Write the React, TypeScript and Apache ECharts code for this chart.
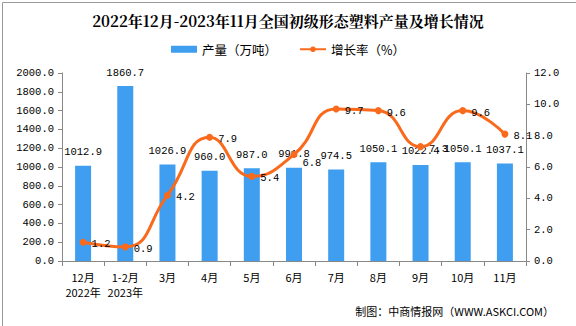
import React, { useEffect, useRef } from "react";
import * as echarts from "echarts";

const categories = ["12月\n2022年", "1-2月\n2023年", "3月", "4月", "5月", "6月", "7月", "8月", "9月", "10月", "11月"];
const output = [1012.9, 1860.7, 1026.9, 960.0, 987.0, 991.8, 974.5, 1050.1, 1022.4, 1050.1, 1037.1];
const growth = [1.2, 0.9, 4.2, 7.9, 5.4, 6.8, 9.7, 9.6, 7.3, 9.6, 8.1];

const MONO = "'Liberation Mono', 'DejaVu Sans Mono', monospace";
const CJK = "'Noto Sans CJK SC', sans-serif";

export default function App() {
  const ref = useRef<HTMLDivElement>(null);
  useEffect(() => {
    const chart = echarts.init(ref.current!, null, { renderer: "svg" });
    const growthData = growth.map((v, i) =>
      i === 5 ? { value: v, label: { offset: [0, 9] } } : v
    );
    chart.setOption({
      animation: false,
      backgroundColor: "#fff",
      title: {
        text: "2022年12月-2023年11月全国初级形态塑料产量及增长情况",
        left: "center",
        top: 8,
        textStyle: { fontSize: 15, fontWeight: "bold", color: "#000", fontFamily: "'Noto Serif CJK SC', " + CJK },
      },
      legend: {
        top: 38,
        left: "center",
        itemGap: 22,
        itemWidth: 26,
        itemHeight: 7,
        textStyle: { fontSize: 12.5, color: "#000", fontFamily: CJK },
        data: [
          { name: "产量（万吨）", icon: "rect" },
          { name: "增长率（%）" },
        ],
      },
      grid: { left: 62, right: 50, top: 73, bottom: 65 },
      xAxis: {
        type: "category",
        data: categories,
        axisLine: { lineStyle: { color: "#888" } },
        axisTick: { show: true, length: 5, lineStyle: { color: "#888" } },
        axisLabel: { interval: 0, color: "#000", fontSize: 11, fontFamily: CJK, lineHeight: 15, margin: 8 },
      },
      yAxis: [
        {
          type: "value",
          min: 0,
          max: 2000,
          interval: 200,
          axisLine: { show: true, lineStyle: { color: "#888" } },
          axisTick: { show: true, length: 4, lineStyle: { color: "#888" } },
          splitLine: { show: false },
          axisLabel: { color: "#000", fontSize: 10.5, fontFamily: MONO, formatter: (v: number) => v.toFixed(1), margin: 8 },
        },
        {
          type: "value",
          min: 0,
          max: 12,
          interval: 2,
          axisLine: { show: true, lineStyle: { color: "#888" } },
          axisTick: { show: true, length: 4, lineStyle: { color: "#888" } },
          splitLine: { show: false },
          axisLabel: { color: "#000", fontSize: 10.5, fontFamily: MONO, formatter: (v: number) => v.toFixed(1), margin: 8 },
        },
      ],
      series: [
        {
          name: "产量（万吨）",
          type: "bar",
          data: output,
          barWidth: 16,
          itemStyle: { color: "#3f9ef0" },
          label: {
            show: true,
            position: "top",
            distance: 8,
            color: "#000",
            fontSize: 10.5,
            fontFamily: MONO,
            formatter: (p: any) => Number(p.value).toFixed(1),
          },
        },
        {
          name: "增长率（%）",
          type: "line",
          yAxisIndex: 1,
          data: growthData,
          smooth: 0.5,
          symbol: "circle",
          symbolSize: 7,
          lineStyle: { color: "#f96a1c", width: 3 },
          itemStyle: { color: "#f96a1c" },
          label: {
            show: true,
            position: "right",
            distance: 5,
            offset: [0, 2],
            color: "#000",
            fontSize: 10.5,
            fontFamily: MONO,
            formatter: (p: any) => Number(p.value).toFixed(1),
          },
        },
      ],
      graphic: [
        {
          type: "text",
          right: 22,
          top: 305,
          style: { text: "制图：中商情报网（WWW.ASKCI.COM）", fontSize: 11, fill: "#000", fontFamily: CJK },
        },
        {
          type: "rect",
          left: 0,
          top: 0,
          shape: { x: 0, y: 0, width: 575, height: 325 },
          style: { fill: "none", stroke: "#999", lineWidth: 1 },
          silent: true,
        },
      ],
    });
    return () => chart.dispose();
  }, []);
  return <div ref={ref} style={{ width: 576, height: 326, position: "absolute", left: 0, top: 0 }} />;
}
